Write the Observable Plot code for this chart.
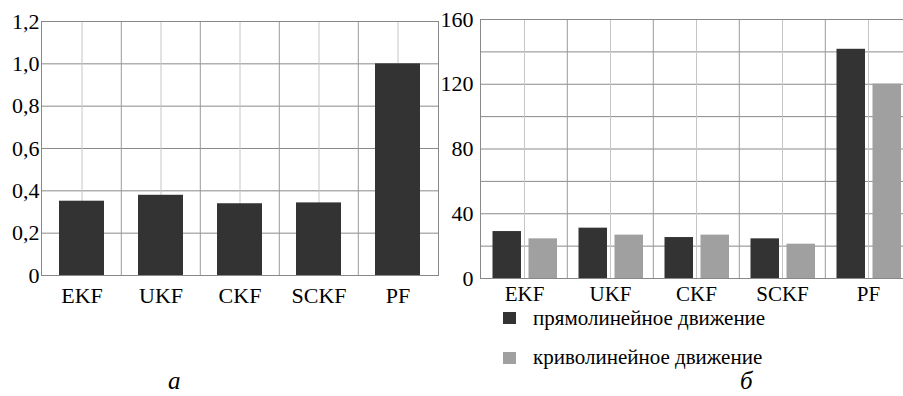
<!DOCTYPE html>
<html>
<head>
<meta charset="utf-8">
<script src="https://cdn.jsdelivr.net/npm/d3@7"></script>
<script src="https://cdn.jsdelivr.net/npm/@observablehq/plot@0.6"></script>
<style>
  html, body { margin: 0; padding: 0; background: #fff; }
  #root { position: relative; width: 903px; height: 396px; overflow: hidden; background: #fff; font-family: "Liberation Serif", "Times New Roman", serif; }
  #root svg { max-width: none !important; font-family: "Liberation Serif", "Times New Roman", serif !important; }
  #root svg text { font-family: "Liberation Serif", "Times New Roman", serif !important; }
  .panel { position: absolute; top: 0; }
  .legend { position: absolute; left: 503px; top: 0; width: 400px; font-size: 21px; color: #000; font-family: "Liberation Serif", "Times New Roman", serif; }
  .legend .sw { position: absolute; left: 0; width: 13px; height: 12px; }
  .legend .tx { position: absolute; left: 30px; line-height: 14px; white-space: nowrap; }
  .cap { position: absolute; font-style: italic; font-size: 25px; color: #000; line-height: 16px; font-family: "Liberation Serif", "Times New Roman", serif; }
</style>
</head>
<body>
<div id="root">
  <div id="pa" class="panel" style="left:0px; width:450px"></div>
  <div id="pb" class="panel" style="left:420px; width:500px"></div>
  <div id="legend" class="legend"></div>
  <div class="cap" style="left:168px; top:373px">а</div>
  <div class="cap" style="left:740px; top:373px">б</div>
</div>
<script>
// ---- data ----
const categories = ["EKF", "UKF", "CKF", "SCKF", "PF"];
const panelAValues = [0.351, 0.379, 0.339, 0.343, 1.0];
const straightValues = [29.0, 31.1, 25.3, 24.5, 141.6];
const curvedValues = [24.5, 26.8, 26.8, 21.2, 120.1];
const seriesNames = ["прямолинейное движение", "криволинейное движение"];
const seriesColors = ["#333333", "#a0a0a0"];
const yTicksA = [0, 0.2, 0.4, 0.6, 0.8, 1.0, 1.2];
const yTicksB = [0, 40, 80, 120, 160];
const yGridB = [0, 20, 40, 60, 80, 100, 120, 140, 160];

const fmtA = d => d === 0 ? "0" : d.toFixed(1).replace(".", ",");

const tableA = categories.map((c, i) => ({cat: c, value: panelAValues[i]}));
const tableStraight = categories.map((c, i) => ({cat: c, value: straightValues[i]}));
const tableCurved = categories.map((c, i) => ({cat: c, value: curvedValues[i]}));

const hGrid = "#8a8a8a", vBound = "#9a9a9a", vCenter = "#c6c6c6";
const FONT = "'Liberation Serif', 'Times New Roman', serif";

// ---- panel a ----
{
  const W = 450, ML = 41, MR = 12;
  const step = (W - ML - MR) / categories.length;
  const chart = Plot.plot({
    width: W, height: 310,
    marginLeft: ML, marginRight: MR, marginTop: 21, marginBottom: 35,
    style: {fontFamily: FONT, fontSize: "22px", background: "transparent", color: "#000", overflow: "visible"},
    x: {domain: categories, padding: 0, label: null},
    y: {domain: [0, 1.2], label: null},
    marks: [
      Plot.gridY(yTicksA, {stroke: hGrid, strokeOpacity: 1}),
      Plot.gridX(categories, {stroke: vCenter, strokeOpacity: 1}),
      Plot.ruleX(categories.slice(1), {x: d => d, dx: -step / 2, stroke: vBound}),
      Plot.barY(tableA, {x: "cat", y: "value", fill: seriesColors[0], insetLeft: 17, insetRight: 17}),
      Plot.frame({stroke: "#888"}),
      Plot.axisY(yTicksA, {tickSize: 0, tickPadding: 2, tickFormat: fmtA, label: null}),
      Plot.axisX({tickSize: 0, tickPadding: 12, label: null})
    ]
  });
  document.getElementById("pa").appendChild(chart);
}

// ---- panel b ----
{
  const W = 500, ML = 60, MR = 8;
  const step = (W - ML - MR) / categories.length;
  const chart = Plot.plot({
    width: W, height: 313,
    marginLeft: ML, marginRight: MR, marginTop: 19, marginBottom: 35,
    style: {fontFamily: FONT, fontSize: "22px", background: "transparent", color: "#000", overflow: "visible"},
    x: {domain: categories, padding: 0, label: null},
    y: {domain: [0, 160], label: null},
    marks: [
      Plot.gridY(yGridB, {stroke: hGrid, strokeOpacity: 1}),
      Plot.gridX(categories, {stroke: vCenter, strokeOpacity: 1}),
      Plot.ruleX(categories.slice(1), {x: d => d, dx: -step / 2, stroke: vBound}),
      Plot.barY(tableStraight, {x: "cat", y: "value", fill: seriesColors[0], insetLeft: 11.5, insetRight: 46}),
      Plot.barY(tableCurved, {x: "cat", y: "value", fill: seriesColors[1], insetLeft: 47.5, insetRight: 10}),
      Plot.frame({stroke: "#888"}),
      Plot.axisY(yTicksB, {tickSize: 0, tickPadding: 7, label: null}),
      Plot.axisX({tickSize: 0, tickPadding: 8, fontSize: 21, label: null})
    ]
  });
  document.getElementById("pb").appendChild(chart);
}

// ---- legend ----
{
  const lg = document.getElementById("legend");
  const swatchTops = [312, 352];
  const textTops = [311, 350];
  seriesNames.forEach((name, i) => {
    const sw = document.createElement("div");
    sw.className = "sw";
    sw.style.background = seriesColors[i];
    sw.style.top = swatchTops[i] + "px";
    const tx = document.createElement("div");
    tx.className = "tx";
    tx.textContent = name;
    tx.style.top = textTops[i] + "px";
    lg.appendChild(sw);
    lg.appendChild(tx);
  });
}
</script>
</body>
</html>
